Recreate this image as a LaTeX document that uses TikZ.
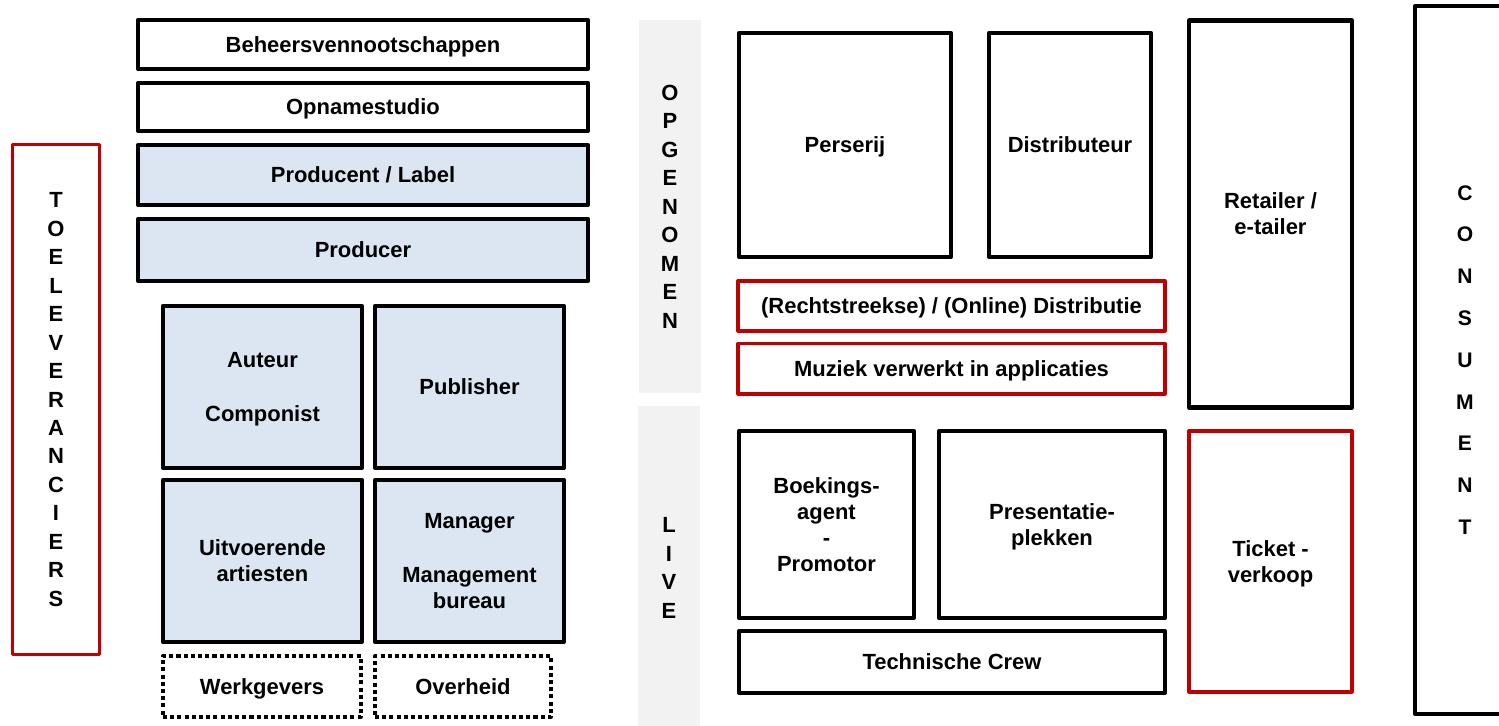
\documentclass[tikz,border=0pt]{standalone}
\usepackage{fontspec}
\setmainfont{Liberation Sans}
\definecolor{boxBlue}{RGB}{220,230,242}
\definecolor{boxRed}{RGB}{192,0,0}
\definecolor{bandGray}{RGB}{242,242,242}

\tikzset{
  box/.style={draw, line width=2.4pt, line join=round, align=center, inner sep=0pt, text depth=0pt,
    font=\fontsize{12.5}{14.8}\selectfont\bfseries},
  bluebox/.style={box, fill=boxBlue},
  redbox/.style={box, draw=boxRed, line width=1.9pt},
  dotbox/.style={box, line width=1.9pt, dash pattern=on 2.3pt off 1.8pt},
  band/.style={fill=bandGray, inner sep=0pt, align=center},
  letters/.style={font=\fontsize{12.5}{16.2}\selectfont\bfseries},
}

\begin{document}
\begin{tikzpicture}[x=0.02cm, y=-0.02cm]
  \useasboundingbox (0,0) rectangle (1499,726);
  \clip (0,0) rectangle (1499,726);

  % grey bands in the middle
  \node[band, letters, minimum width=1.24cm, minimum height=7.46cm] (opgenomen) at (670,206.5)
    {O\\P\\G\\E\\N\\O\\M\\E\\N};
  \node[band, letters, minimum width=1.24cm, minimum height=6.48cm] (live) at (669,568)
    {L\\I\\V\\E};

  % suppliers
  \node[redbox, letters, minimum width=1.74cm, minimum height=10.2cm] (toelev) at (56,399.5)
    {T\\O\\E\\L\\E\\V\\E\\R\\A\\N\\C\\I\\E\\R\\S};

  % left column
  \node[box, minimum width=9cm, minimum height=0.98cm] (beheer) at (363,44.5) {Beheersvennootschappen};
  \node[box, minimum width=9cm, minimum height=0.96cm] (studio) at (363,107) {Opnamestudio};
  \node[bluebox, minimum width=9cm, minimum height=1.2cm] (label) at (363,175) {Producent / Label};
  \node[bluebox, minimum width=9cm, minimum height=1.24cm] (producer) at (363,250) {Producer};

  \node[bluebox, minimum width=3.98cm, minimum height=3.24cm] (auteur) at (262.5,387) {Auteur\\[16pt]Componist};
  \node[bluebox, minimum width=3.78cm, minimum height=3.24cm] (publisher) at (469.5,387) {Publisher};
  \node[bluebox, minimum width=3.98cm, minimum height=3.24cm] (artiesten) at (262.5,561) {Uitvoerende\\artiesten};
  \node[bluebox, minimum width=3.78cm, minimum height=3.24cm] (manager) at (469.5,561) {Manager\\[16pt]Management\\bureau};

  \node[dotbox, minimum width=3.96cm, minimum height=1.22cm] (werkgevers) at (262,686.5) {Werkgevers};
  \node[dotbox, minimum width=3.52cm, minimum height=1.22cm] (overheid) at (463,686.5) {Overheid};

  % recorded music
  \node[box, minimum width=4.24cm, minimum height=4.48cm] (perserij) at (845,145) {Perserij};
  \node[box, minimum width=3.24cm, minimum height=4.48cm] (distributeur) at (1070,145) {Distributeur};
  \node[redbox, minimum width=8.54cm, minimum height=1cm] (distributie) at (951.5,306)
    {(Rechtstreekse) / (Online) Distributie};
  \node[redbox, minimum width=8.54cm, minimum height=1.01cm] (muziek) at (951.5,368.75)
    {Muziek verwerkt in applicaties};
  \node[box, minimum width=3.26cm, minimum height=7.74cm] (retailer) at (1270.5,214) {Retailer /\\e-tailer};

  % live music
  \node[box, minimum width=3.5cm, minimum height=3.74cm] (boeking) at (826.5,524.5)
    {Boekings-\\agent\\-\\Promotor};
  \node[box, minimum width=4.52cm, minimum height=3.74cm] (presentatie) at (1052,524.5)
    {Presentatie-\\plekken};
  \node[box, minimum width=8.52cm, minimum height=1.24cm] (crew) at (952,662) {Technische Crew};
  \node[redbox, minimum width=3.26cm, minimum height=5.22cm] (ticket) at (1270.5,561.5) {Ticket -\\verkoop};

  % consumer, runs off the right edge
  \node[box, font=\fontsize{12}{23.8}\selectfont\bfseries, minimum width=2cm, minimum height=14.16cm]
    (consument) at (1465,360) {C\\O\\N\\S\\U\\M\\E\\N\\T};
\end{tikzpicture}
\end{document}
